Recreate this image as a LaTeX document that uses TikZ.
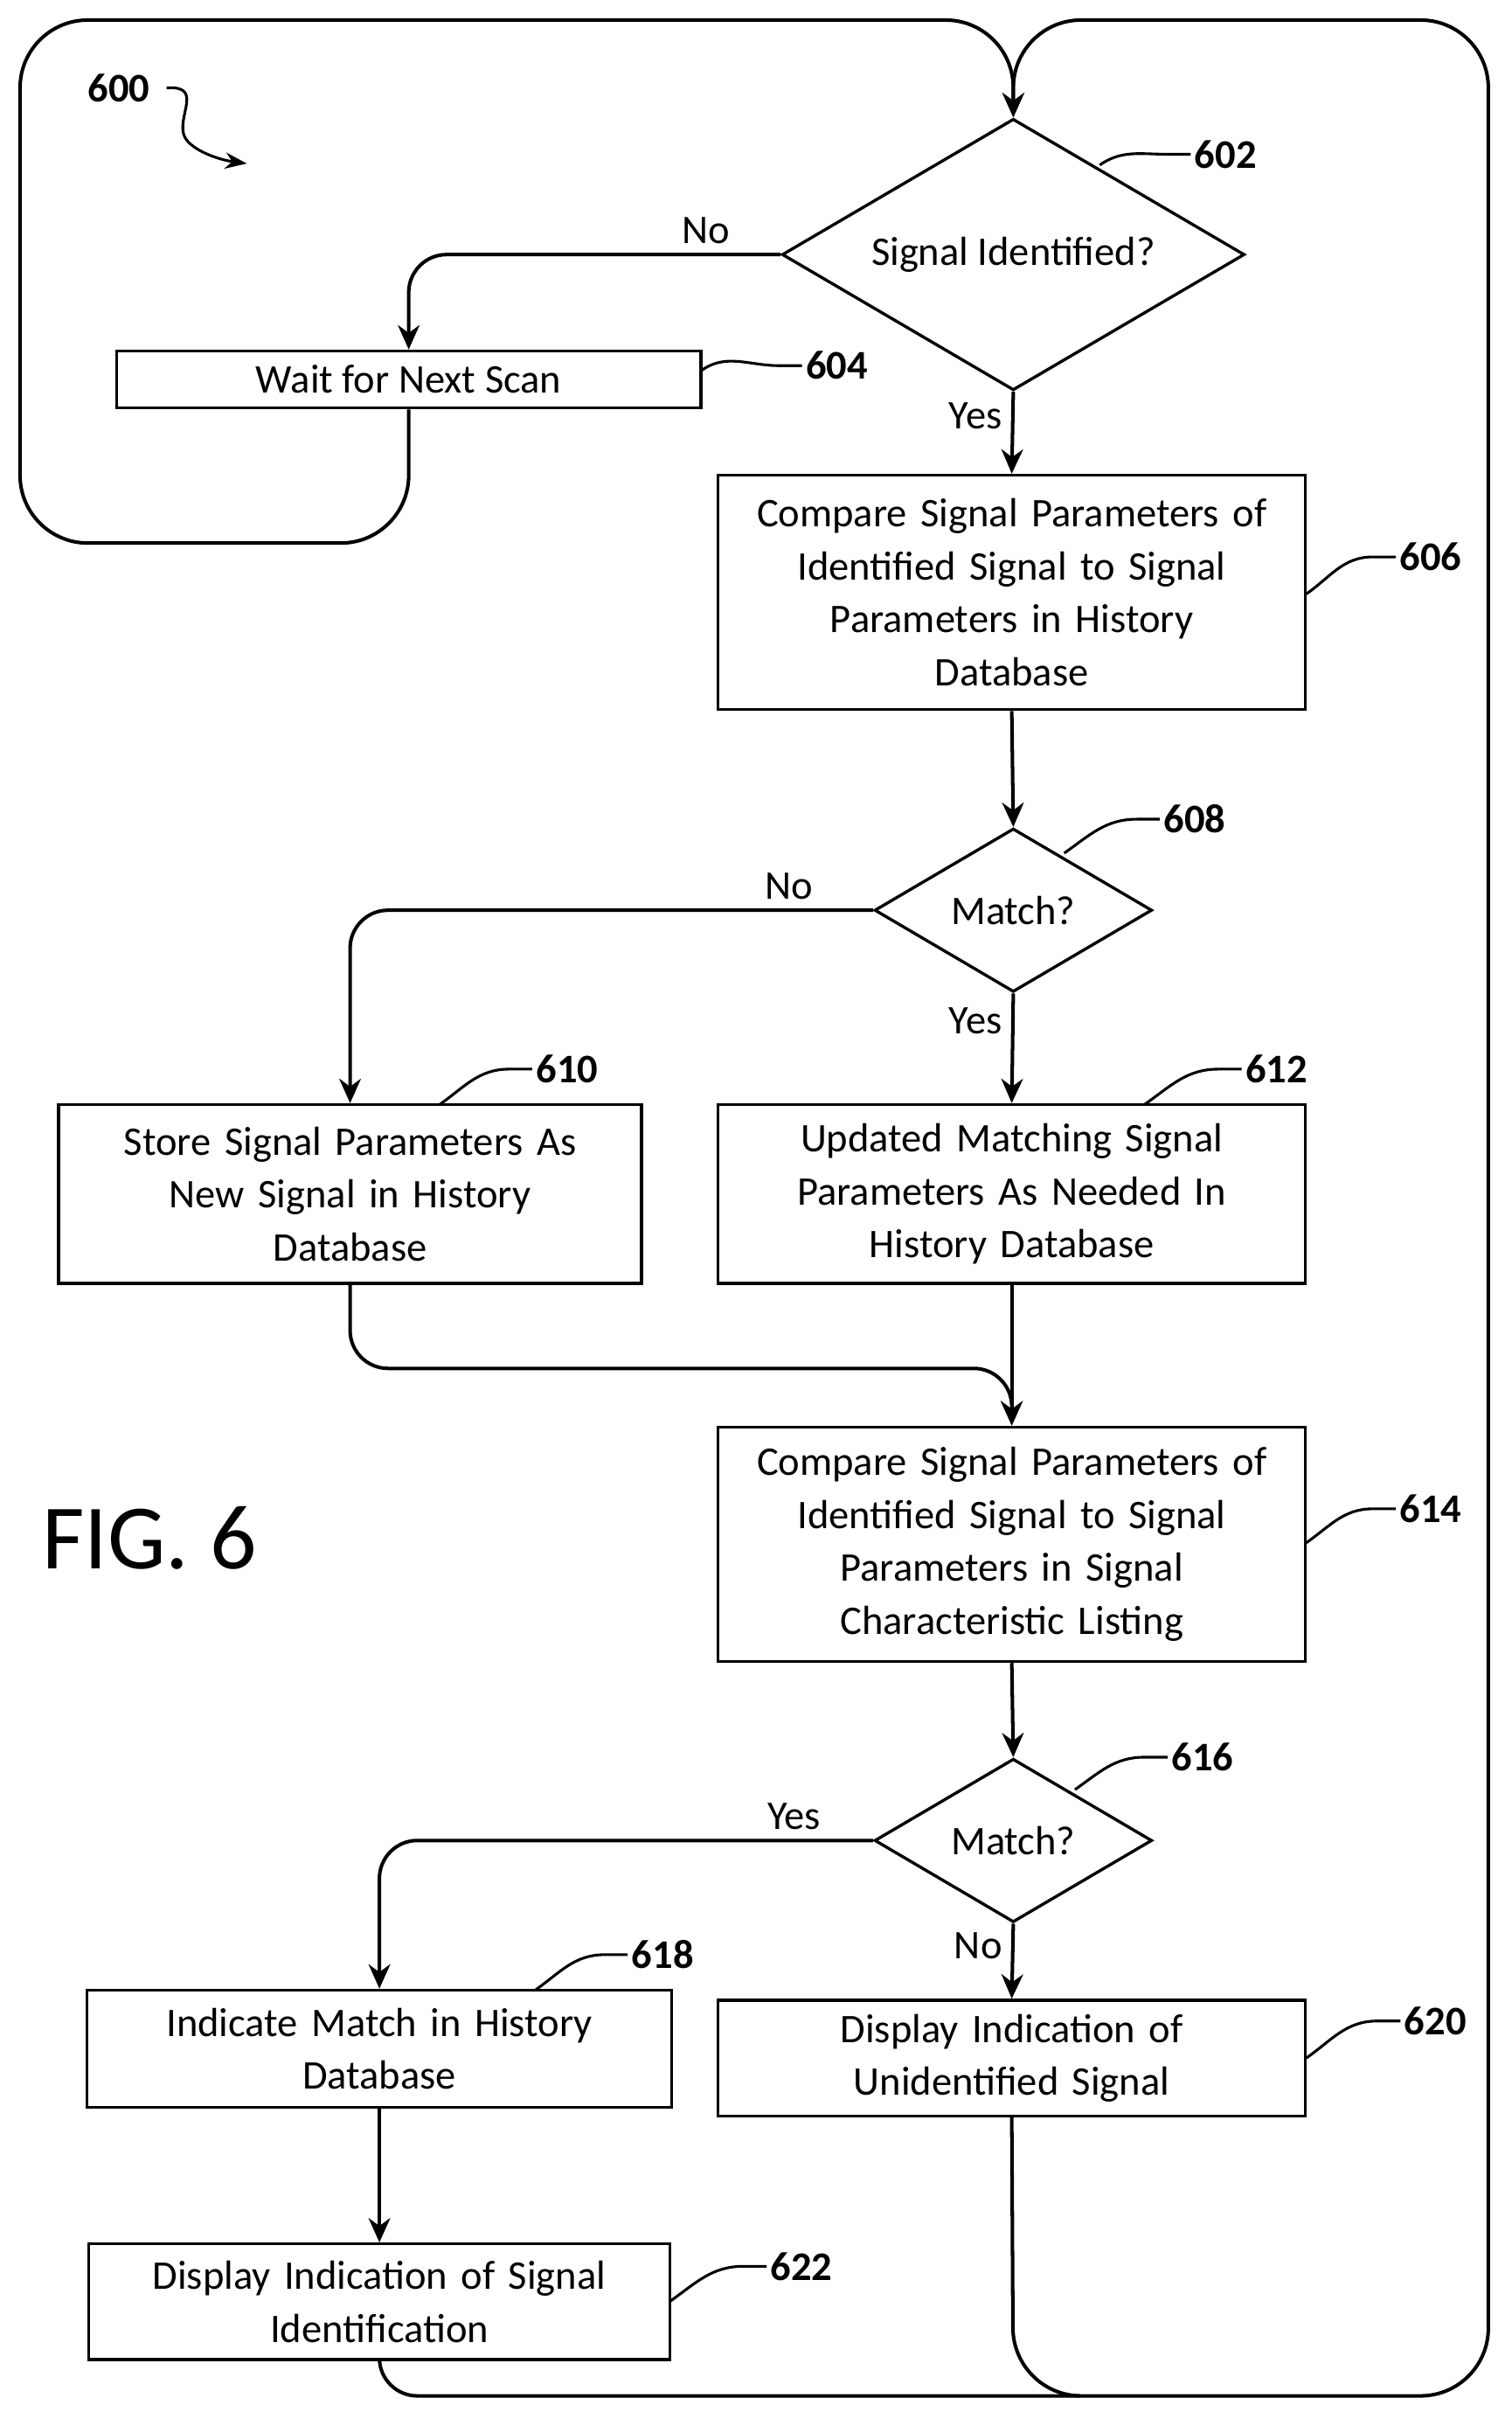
\documentclass[tikz,border=0pt]{standalone}
\usepackage{fontspec}
\setmainfont{Carlito}
\usetikzlibrary{shapes.geometric,arrows.meta}

\tikzstyle{stage} = [draw, line width=1.1pt, align=center, inner sep=2pt]
\tikzstyle{test} = [draw, diamond, line width=1.1pt, aspect=1.7, inner sep=0pt, align=center]
\tikzstyle{flow} = [line width=1.3pt, -{Stealth[length=9pt,width=8pt]}, rounded corners=14pt]
\tikzstyle{ref} = [font=\bfseries\fontsize{15}{18}\selectfont]

\newcommand{\callout}[3]{%
  \draw[line width=1pt] (#1) to[out=35,in=180] (#2) -- ++(15,0) node[ref, right, inner sep=1pt] {#3};}

\begin{document}
\begin{tikzpicture}[x=0.02cm, y=-0.02cm, font=\fontsize{15}{19.5}\selectfont]
\useasboundingbox (0,0) rectangle (980,1568);

% decisions
\node[test, minimum width=6cm, minimum height=3.52cm] (signal) at (657,165) {Signal Identified?};
\node[test, minimum width=3.6cm, minimum height=2.12cm] (match) at (657,590) {Match?};
\node[test, minimum width=3.6cm, minimum height=2.12cm] (listmatch) at (657,1193) {Match?};

% steps
\node[stage, minimum width=7.58cm, minimum height=0.74cm] (wait) at (265,246) {Wait for Next Scan};
\node[stage, text width=7.3cm, minimum width=7.62cm, minimum height=3.04cm] (history) at (656,384) {Compare Signal Parameters of\\ Identified Signal to Signal\\ Parameters in History\\ Database};
\node[stage, text width=7.3cm, minimum width=7.56cm, minimum height=2.32cm] (store) at (227,774) {Store Signal Parameters As\\ New Signal in History\\ Database};
\node[stage, text width=7.3cm, minimum width=7.62cm, minimum height=2.32cm] (update) at (656,774) {Updated Matching Signal\\ Parameters As Needed In\\ History Database};
\node[stage, text width=7.3cm, minimum width=7.62cm, minimum height=3.04cm] (listing) at (656,1001) {Compare Signal Parameters of\\ Identified Signal to Signal\\ Parameters in Signal\\ Characteristic Listing};
\node[stage, text width=7.3cm, minimum width=7.58cm, minimum height=1.52cm] (indicate) at (246,1328) {Indicate Match in History\\ Database};
\node[stage, text width=7.3cm, minimum width=7.62cm, minimum height=1.5cm] (unknown) at (656,1334) {Display Indication of\\ Unidentified Signal};
\node[stage, text width=7.3cm, minimum width=7.54cm, minimum height=1.5cm] (identified) at (246,1492) {Display Indication of Signal\\ Identification};

\node[font=\fontsize{34}{40}\selectfont] (fig) at (97,997) {FIG. 6};
\node[ref] (num) at (77,57) {600};
\draw[line width=1pt, -{Stealth[length=8pt]}] (108,57) .. controls (135,55) and (110,80) .. (122,92) .. controls (130,100) and (145,104) .. (160,106);

% connectors
\draw[flow] (signal.west) -| node[pos=0.1, above] {No} (wait.north);
\draw[flow] (signal.south) -- node[pos=0.3, left] {Yes} (history.north);
\draw[flow] (history.south) -- (match.north);
\draw[flow] (match.west) -| node[pos=0.08, above] {No} (store.north);
\draw[flow] (match.south) -- node[pos=0.25, left] {Yes} (update.north);
\draw[flow] (store.south) -- (227,887) -| (listing.north);
\draw[flow] (update.south) -- (listing.north);
\draw[flow] (listing.south) -- (listmatch.north);
\draw[flow] (listmatch.west) -| node[pos=0.08, above] {Yes} (indicate.north);
\draw[flow] (listmatch.south) -- node[pos=0.3, left] {No} (unknown.north);
\draw[flow] (indicate.south) -- (identified.north);
\draw[flow, rounded corners=25pt] (wait.south) -- (265,352) -| (13,13) -| (signal.north);
\draw[flow, rounded corners=25pt] (unknown.south) -- (657,1553) -| (965,13) -| (signal.north);
\draw[line width=1.3pt, rounded corners=14pt] (identified.south) |- (700,1553);

% reference numerals
\callout{713,107}{757,100}{602}
\callout{455,240}{505,237}{604}
\callout{847,385}{890,361}{606}
\callout{690,553}{737,531}{608}
\callout{285,716}{330,693}{610}
\callout{742,716}{790,693}{612}
\callout{847,1000}{890,978}{614}
\callout{697,1160}{742,1139}{616}
\callout{347,1290}{392,1267}{618}
\callout{847,1334}{893,1310}{620}
\callout{434,1492}{482,1469}{622}
\end{tikzpicture}
\end{document}
